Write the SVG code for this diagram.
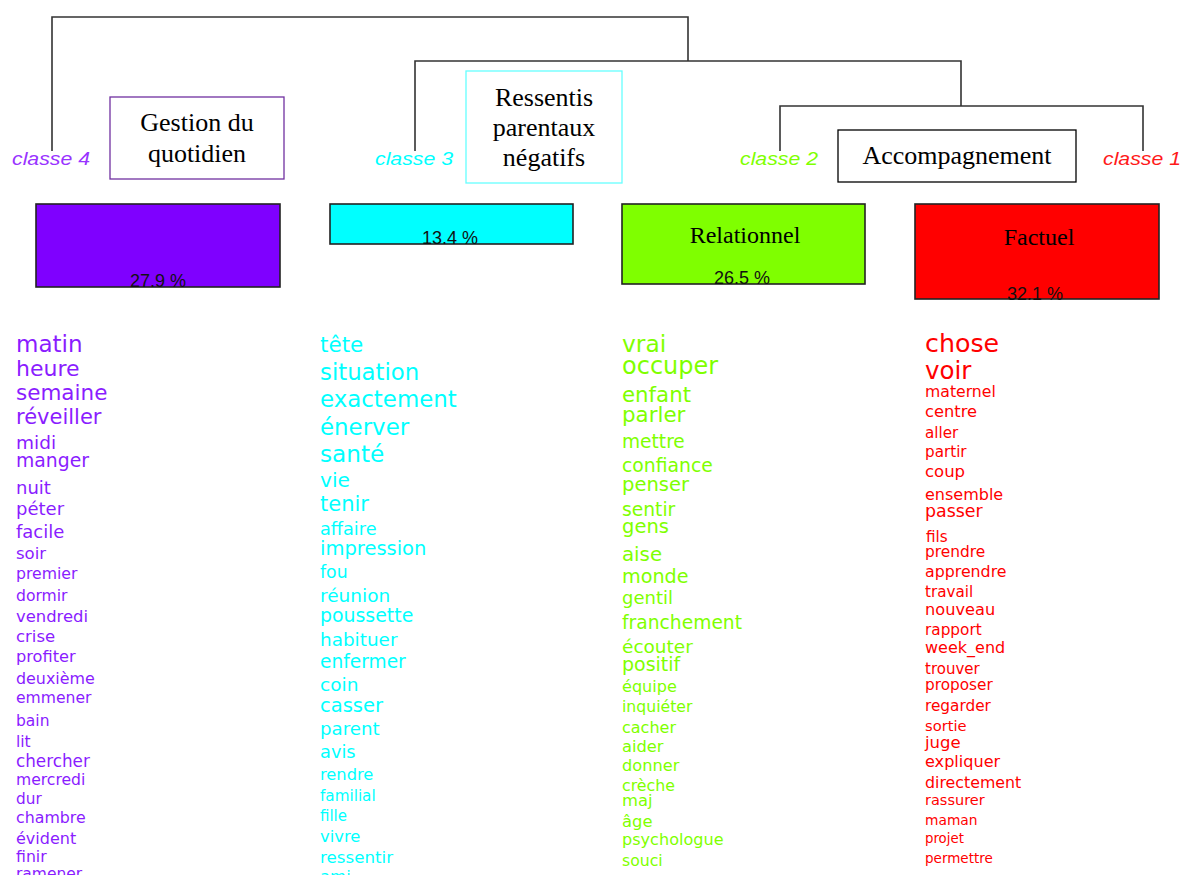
<svg xmlns="http://www.w3.org/2000/svg" width="1181" height="875" viewBox="0 0 1181 875">
<style>
.ln{fill:none;stroke:#333;stroke-width:1.6}
.cl{font-family:"Liberation Sans",Arial,sans-serif;font-style:italic;font-size:18px}
.tb{font-family:"Liberation Serif","Times New Roman",serif;fill:#000;text-anchor:middle}
.pc{font-family:"Liberation Sans",Arial,sans-serif;font-size:18px;fill:#111;text-anchor:middle}
.bar{stroke:#222;stroke-width:1.6}
.w{font-family:"DejaVu Sans",Verdana,sans-serif}
.c4{fill:#8a1cff}.c3{fill:#00ffff}.c2{fill:#7fff00}.c1{fill:#ff0000}
</style>
<rect width="1181" height="875" fill="#fff"/>
<g id="connectors">
<path class="ln" d="M52,151 V17 H688 V61"/>
<path class="ln" d="M415,151 V61 H961 V106"/>
<path class="ln" d="M780,151 V106 H1143 V151"/>
</g>
<g id="labels" xml:space="preserve">
<text class="cl" x="12" y="165" fill="#9933ff" textLength="78" lengthAdjust="spacingAndGlyphs">classe  4</text>
<text class="cl" x="375" y="165" fill="#00ffff" textLength="78" lengthAdjust="spacingAndGlyphs">classe  3</text>
<text class="cl" x="740" y="165" fill="#80ff00" textLength="78" lengthAdjust="spacingAndGlyphs">classe  2</text>
<text class="cl" x="1103" y="165" fill="#ff1a1a" textLength="78" lengthAdjust="spacingAndGlyphs">classe  1</text>
</g>
<g id="theme-gestion">
<rect x="110" y="97" width="174" height="82" fill="#fff" stroke="#7030a0" stroke-width="1.3"/>
<text class="tb" x="197" y="131" font-size="26">Gestion du</text>
<text class="tb" x="197" y="162" font-size="26">quotidien</text>
</g>
<g id="theme-ressentis">
<rect x="466" y="71" width="156" height="112" fill="#fff" stroke="#66ffff" stroke-width="1.3"/>
<text class="tb" x="544" y="106" font-size="26">Ressentis</text>
<text class="tb" x="544" y="136" font-size="26">parentaux</text>
<text class="tb" x="544" y="166" font-size="26">négatifs</text>
</g>
<g id="theme-accompagnement">
<rect x="838" y="130" width="238" height="52" fill="#fff" stroke="#000" stroke-width="1.3"/>
<text class="tb" x="957" y="164" font-size="26">Accompagnement</text>
</g>
<g id="bar-classe4">
<rect class="bar" x="36" y="204" width="244" height="83" fill="#7f00ff"/>
<text class="pc" x="158" y="287">27.9 %</text>
</g>
<g id="bar-classe3">
<rect class="bar" x="330" y="204" width="243" height="40" fill="#00ffff"/>
<text class="pc" x="450" y="244">13.4 %</text>
</g>
<g id="bar-classe2">
<rect class="bar" x="622" y="204" width="243" height="80" fill="#7fff00"/>
<text class="tb" x="745" y="243" font-size="24">Relationnel</text>
<text class="pc" x="742" y="284">26.5 %</text>
</g>
<g id="bar-classe1">
<rect class="bar" x="915" y="204" width="244" height="95" fill="#ff0000"/>
<text class="tb" x="1039" y="245" font-size="24">Factuel</text>
<text class="pc" x="1035" y="300">32.1 %</text>
</g>
<g id="words-classe4" class="w c4">
<text x="16" y="352" font-size="23">matin</text>
<text x="16" y="376" font-size="22">heure</text>
<text x="16" y="400" font-size="21.5">semaine</text>
<text x="16" y="424" font-size="21">réveiller</text>
<text x="16" y="449" font-size="18.5">midi</text>
<text x="16" y="467" font-size="18.8">manger</text>
<text x="16" y="494" font-size="18">nuit</text>
<text x="16" y="515" font-size="18">péter</text>
<text x="16" y="538" font-size="18">facile</text>
<text x="16" y="559" font-size="16.5">soir</text>
<text x="16" y="579" font-size="15.7">premier</text>
<text x="16" y="601" font-size="15.6">dormir</text>
<text x="16" y="622" font-size="16.4">vendredi</text>
<text x="16" y="642" font-size="16.5">crise</text>
<text x="16" y="662" font-size="16.2">profiter</text>
<text x="16" y="684" font-size="15.9">deuxième</text>
<text x="16" y="703" font-size="15.6">emmener</text>
<text x="16" y="726" font-size="15.5">bain</text>
<text x="16" y="747" font-size="15.5">lit</text>
<text x="16" y="767" font-size="16.8">chercher</text>
<text x="16" y="785" font-size="15.6">mercredi</text>
<text x="16" y="804" font-size="15.3">dur</text>
<text x="16" y="823" font-size="15.8">chambre</text>
<text x="16" y="844" font-size="16">évident</text>
<text x="16" y="862" font-size="15.7">finir</text>
<text x="16" y="879" font-size="15.5">ramener</text>
</g>
<g id="words-classe3" class="w c3">
<text x="320" y="352" font-size="21.5">tête</text>
<text x="320" y="380" font-size="22.8">situation</text>
<text x="320" y="407" font-size="22.9">exactement</text>
<text x="320" y="435" font-size="22.9">énerver</text>
<text x="320" y="462" font-size="23.2">santé</text>
<text x="320" y="487" font-size="20.2">vie</text>
<text x="320" y="511" font-size="21">tenir</text>
<text x="320" y="535" font-size="17.7">affaire</text>
<text x="320" y="555" font-size="19.5">impression</text>
<text x="320" y="578" font-size="17.3">fou</text>
<text x="320" y="602" font-size="18.5">réunion</text>
<text x="320" y="622" font-size="18.9">poussette</text>
<text x="320" y="646" font-size="18.4">habituer</text>
<text x="320" y="668" font-size="18.6">enfermer</text>
<text x="320" y="691" font-size="18.5">coin</text>
<text x="320" y="712" font-size="19.5">casser</text>
<text x="320" y="735" font-size="18.2">parent</text>
<text x="320" y="758" font-size="17.8">avis</text>
<text x="320" y="780" font-size="16.3">rendre</text>
<text x="320" y="801" font-size="15.2">familial</text>
<text x="320" y="821" font-size="15">fille</text>
<text x="320" y="842" font-size="16.4">vivre</text>
<text x="320" y="863" font-size="16.7">ressentir</text>
<text x="320" y="882" font-size="16.5">ami</text>
</g>
<g id="words-classe2" class="w c2">
<text x="622" y="352" font-size="23.4">vrai</text>
<text x="622" y="374" font-size="24">occuper</text>
<text x="622" y="402" font-size="21.3">enfant</text>
<text x="622" y="422" font-size="21.4">parler</text>
<text x="622" y="448" font-size="18.6">mettre</text>
<text x="622" y="472" font-size="18.8">confiance</text>
<text x="622" y="491" font-size="19.5">penser</text>
<text x="622" y="516" font-size="18.7">sentir</text>
<text x="622" y="533" font-size="19.5">gens</text>
<text x="622" y="561" font-size="19.8">aise</text>
<text x="622" y="583" font-size="19.2">monde</text>
<text x="622" y="604" font-size="18">gentil</text>
<text x="622" y="629" font-size="18.7">franchement</text>
<text x="622" y="653" font-size="18.5">écouter</text>
<text x="622" y="671" font-size="19">positif</text>
<text x="622" y="692" font-size="16.1">équipe</text>
<text x="622" y="712" font-size="15.7">inquiéter</text>
<text x="622" y="733" font-size="16">cacher</text>
<text x="622" y="752" font-size="16.3">aider</text>
<text x="622" y="771" font-size="16.2">donner</text>
<text x="622" y="791" font-size="15.8">crèche</text>
<text x="622" y="806" font-size="16.4">maj</text>
<text x="622" y="827" font-size="16.4">âge</text>
<text x="622" y="845" font-size="16.1">psychologue</text>
<text x="622" y="866" font-size="15.7">souci</text>
</g>
<g id="words-classe1" class="w c1">
<text x="925" y="352" font-size="25.3">chose</text>
<text x="925" y="379" font-size="24.5">voir</text>
<text x="925" y="397" font-size="15.7">maternel</text>
<text x="925" y="417" font-size="16.3">centre</text>
<text x="925" y="438" font-size="15.2">aller</text>
<text x="925" y="457" font-size="15.2">partir</text>
<text x="925" y="477" font-size="16.5">coup</text>
<text x="925" y="500" font-size="16">ensemble</text>
<text x="925" y="517" font-size="17.4">passer</text>
<text x="926" y="542" font-size="15.2">fils</text>
<text x="925" y="557" font-size="15.4">prendre</text>
<text x="925" y="577" font-size="15.8">apprendre</text>
<text x="925" y="597" font-size="15.2">travail</text>
<text x="925" y="615" font-size="16.2">nouveau</text>
<text x="925" y="635" font-size="15.3">rapport</text>
<text x="925" y="653" font-size="16">week_end</text>
<text x="925" y="674" font-size="15">trouver</text>
<text x="925" y="690" font-size="15.3">proposer</text>
<text x="925" y="711" font-size="15.3">regarder</text>
<text x="925" y="731" font-size="14.7">sortie</text>
<text x="925" y="748" font-size="16.5">juge</text>
<text x="925" y="767" font-size="16.1">expliquer</text>
<text x="925" y="788" font-size="15.8">directement</text>
<text x="925" y="805" font-size="14.5">rassurer</text>
<text x="925" y="825" font-size="13.8">maman</text>
<text x="925" y="843" font-size="13.3">projet</text>
<text x="925" y="863" font-size="13.5">permettre</text>
</g>
</svg>
